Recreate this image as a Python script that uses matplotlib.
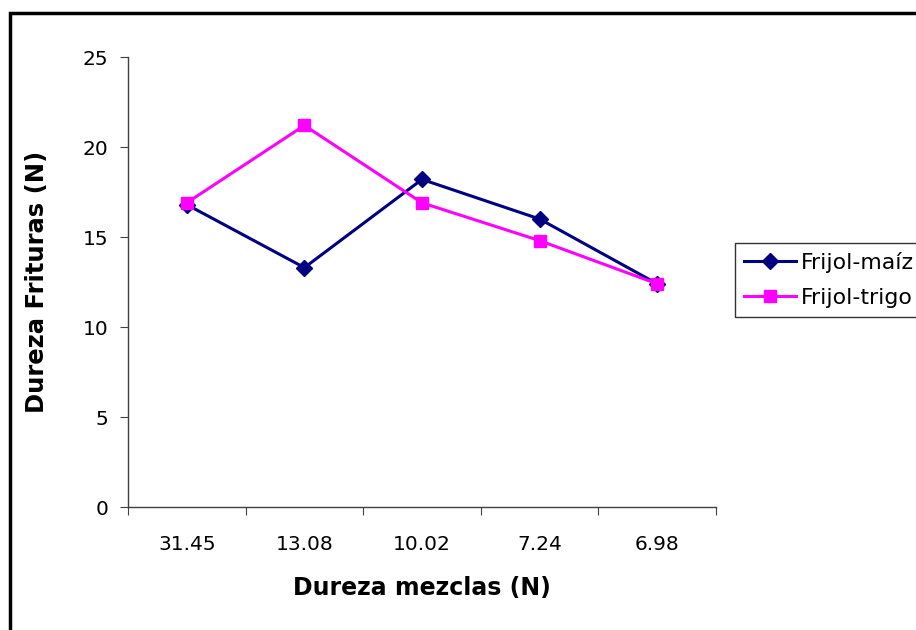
import matplotlib
matplotlib.use('Agg')
import matplotlib.pyplot as plt
from matplotlib.patches import Rectangle

categories = ['31.45', '13.08', '10.02', '7.24', '6.98']
frijol_maiz = [16.8, 13.3, 18.2, 16.0, 12.4]
frijol_trigo = [16.9, 21.2, 16.9, 14.8, 12.4]
yticks = [0, 5, 10, 15, 20, 25]

fig = plt.figure(figsize=(9.16, 6.3), dpi=100)
ax = fig.add_axes([0.1397, 0.1952, 0.642, 0.7143])

x = list(range(len(categories)))
ax.plot(x, frijol_maiz, color='#000080', linewidth=2.2, marker='D',
        markersize=8, label='Frijol-maíz')
ax.plot(x, frijol_trigo, color='#FF00FF', linewidth=2.2, marker='s',
        markersize=8, label='Frijol-trigo')

ax.set_xlim(-0.5, len(categories) - 0.5)
ax.set_ylim(0, 25)
ax.set_yticks(yticks)
ax.set_yticklabels([str(v) for v in yticks], fontsize=14.5)

# category labels sit between the tick marks
ax.set_xticks([i - 0.5 for i in range(len(categories) + 1)])
ax.set_xticklabels([])
ax.set_xticks(x, minor=True)
ax.set_xticklabels(categories, minor=True, fontsize=14.5)
ax.tick_params(axis='x', which='minor', length=0, pad=20)
ax.tick_params(axis='x', which='major', length=6, color='#404040', direction='out')
ax.tick_params(axis='y', length=6, color='#404040', direction='out', pad=8)

for side in ['top', 'right']:
    ax.spines[side].set_visible(False)
for side in ['left', 'bottom']:
    ax.spines[side].set_color('#404040')
    ax.spines[side].set_linewidth(1.0)

ax.set_xlabel('Dureza mezclas (N)', fontsize=17, fontweight='bold', labelpad=16)
ax.set_ylabel('Dureza Frituras (N)', fontsize=17.5, fontweight='bold', labelpad=24)

leg = ax.legend(loc='upper left', bbox_to_anchor=(735 / 916, 1 - 243 / 630),
                bbox_transform=fig.transFigure, fontsize=15.8, frameon=True,
                fancybox=False, handlelength=2.4, borderpad=0.4,
                labelspacing=0.7, handletextpad=0.2, borderaxespad=0)
leg.get_frame().set_edgecolor('#000000')
leg.get_frame().set_linewidth(1.0)

# outer chart border, running past the right and bottom edges
fig.patches.append(Rectangle((10 / 916, -0.05), 1.1, 1 - 13 / 630 + 0.05,
                             transform=fig.transFigure, fill=False,
                             edgecolor='black', linewidth=2.5))

fig.savefig('out.png', dpi=100)
